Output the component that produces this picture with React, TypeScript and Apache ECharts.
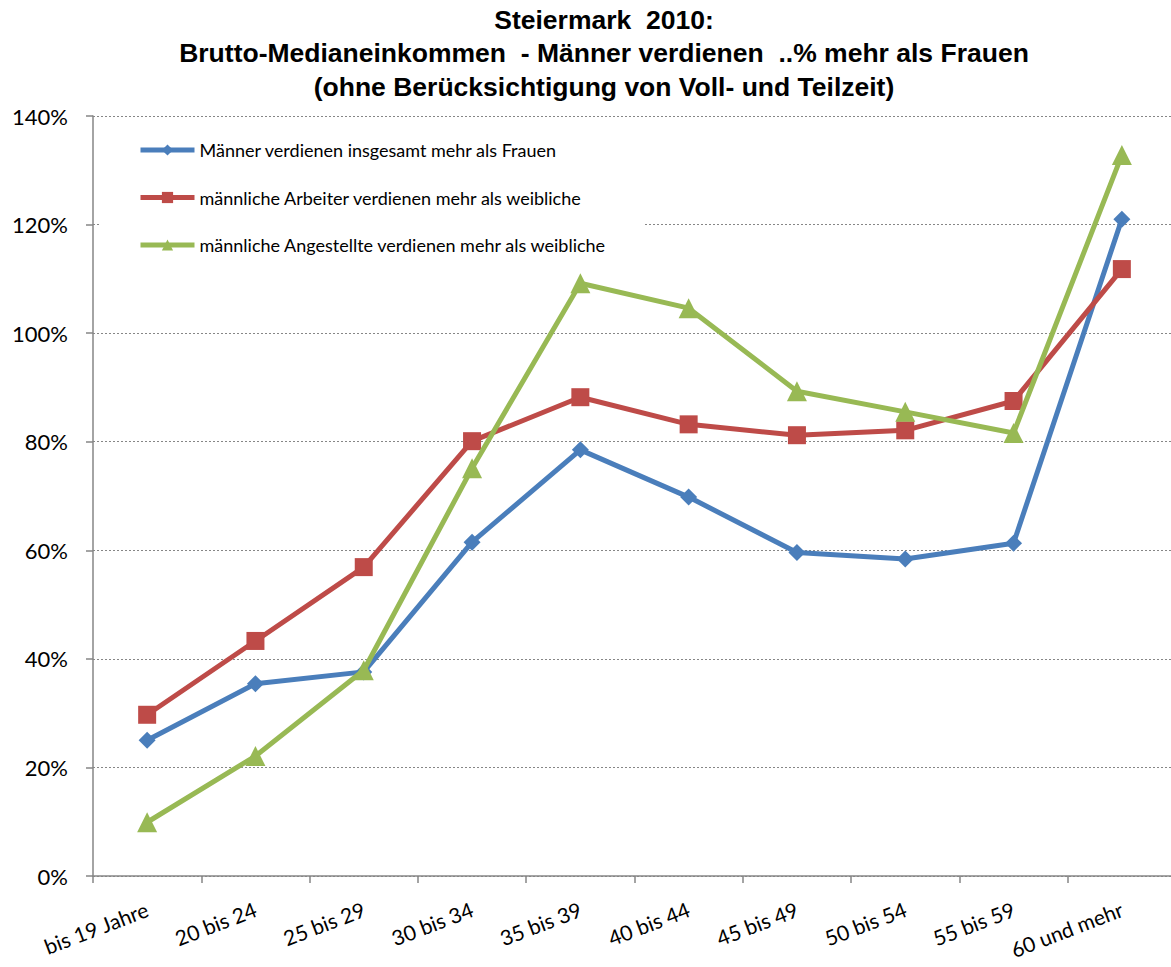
import React, { useEffect, useRef } from "react";
import * as echarts from "echarts";

const titleLines = [
  "Steiermark  2010:",
  "Brutto-Medianeinkommen  - Männer verdienen  ..% mehr als Frauen",
  "(ohne Berücksichtigung von Voll- und Teilzeit)",
];

const categories = [
  "bis 19 Jahre",
  "20 bis 24",
  "25 bis 29",
  "30 bis 34",
  "35 bis 39",
  "40 bis 44",
  "45 bis 49",
  "50 bis 54",
  "55 bis 59",
  "60 und mehr",
];

const seriesNames = [
  "Männer verdienen insgesamt mehr als Frauen",
  "männliche Arbeiter verdienen mehr als weibliche",
  "männliche Angestellte verdienen mehr als weibliche",
];

const insgesamt = [25.0, 35.4, 37.6, 61.5, 78.5, 69.8, 59.6, 58.4, 61.3, 121.0];
const arbeiter = [29.7, 43.3, 56.9, 80.1, 88.2, 83.2, 81.2, 82.1, 87.5, 111.8];
const angestellte = [9.9, 22.1, 37.9, 75.1, 109.2, 104.6, 89.3, 85.5, 81.6, 132.8];

const colors = ["#4A7EBB", "#BE4B48", "#98B954"];
const symbols = ["diamond", "rect", "triangle"];
const symbolSizes = [17, 18, 20];

export default function App() {
  const ref = useRef<HTMLDivElement>(null);
  useEffect(() => {
    if (!ref.current) return;
    const chart = echarts.init(ref.current, null, { renderer: "svg" });
    const data = [insgesamt, arbeiter, angestellte];
    const labelFont = "Lato, 'Open Sans', sans-serif";
    chart.setOption({
      animation: false,
      backgroundColor: "#ffffff",
      title: {
        text: titleLines.join("\n"),
        left: 599,
        textAlign: "center",
        top: -2,
        textStyle: {
          fontFamily: "'Liberation Sans', Arial, sans-serif",
          fontWeight: "bold",
          fontSize: 26.5,
          lineHeight: 33.5,
          color: "#000",
        },
      },
      legend: {
        orient: "vertical",
        left: 101,
        top: 128,
        padding: [13, 38, 13, 37],
        backgroundColor: "#ffffff",
        itemWidth: 54,
        itemHeight: 14,
        itemGap: 29.5,
        lineStyle: { width: 5 },
        textStyle: { fontFamily: labelFont, fontSize: 18, lineHeight: 16, color: "#000" },
        data: seriesNames,
      },
      grid: {
        left: 93,
        top: 116,
        width: 1083,
        height: 760,
        containLabel: false,
        outerBoundsMode: "none",
      },
      xAxis: {
        type: "category",
        data: categories,
        boundaryGap: true,
        axisLine: { lineStyle: { color: "#868686", width: 1.5 } },
        axisTick: { show: true, length: 7, alignWithLabel: false, lineStyle: { color: "#868686", width: 1.5 } },
        axisLabel: {
          rotate: 21,
          margin: 32,
          interval: 0,
          fontFamily: labelFont,
          fontSize: 21,
          color: "#000",
        },
      },
      yAxis: {
        type: "value",
        min: 0,
        max: 140,
        interval: 20,
        axisLine: { show: true, lineStyle: { color: "#868686", width: 1.5 } },
        axisTick: { show: true, length: 7, lineStyle: { color: "#868686", width: 1.5 } },
        axisLabel: {
          formatter: "{value}%",
          margin: 25,
          fontFamily: labelFont,
          fontSize: 22,
          color: "#000",
        },
        splitLine: { show: true, lineStyle: { color: "#868686", type: [2, 2], width: 1 } },
      },
      series: data.map((d, i) => ({
        name: seriesNames[i],
        type: "line",
        data: d,
        symbol: symbols[i],
        symbolSize: symbolSizes[i],
        lineStyle: { color: colors[i], width: 5 },
        itemStyle: { color: colors[i] },
        z: 2 + i,
      })),
    });
    return () => chart.dispose();
  }, []);
  return (
    <div
      ref={ref}
      style={{ position: "absolute", left: 0, top: 0, width: 1171, height: 967 }}
    />
  );
}
